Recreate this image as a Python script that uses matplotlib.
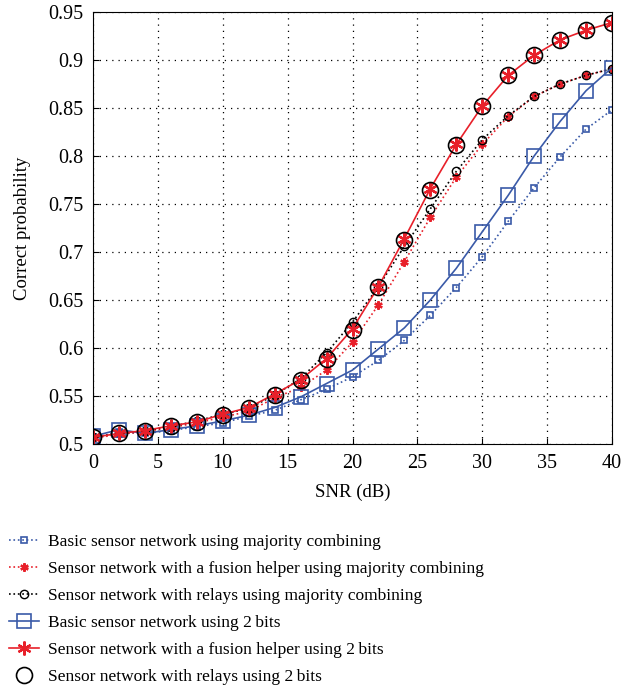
import matplotlib
matplotlib.use('Agg')
import matplotlib.pyplot as plt

plt.rcParams['font.family'] = ['Liberation Serif', 'DejaVu Serif']

snr = [0, 2, 4, 6, 8, 10, 12, 14, 16, 18, 20, 22, 24, 26, 28, 30, 32, 34, 36, 38, 40]

basic_maj = [0.507, 0.512, 0.511, 0.514, 0.518, 0.522, 0.529, 0.535, 0.546, 0.557, 0.570,
             0.587, 0.608, 0.634, 0.663, 0.695, 0.732, 0.767, 0.799, 0.828, 0.848]
fusion_maj = [0.506, 0.510, 0.513, 0.517, 0.522, 0.528, 0.534, 0.548, 0.559, 0.577, 0.606,
              0.645, 0.690, 0.736, 0.778, 0.812, 0.841, 0.862, 0.875, 0.884, 0.891]
relay_maj = [0.507, 0.511, 0.514, 0.518, 0.524, 0.531, 0.537, 0.551, 0.568, 0.595, 0.627,
             0.664, 0.706, 0.745, 0.784, 0.817, 0.842, 0.862, 0.875, 0.884, 0.891]
basic_2b = [0.508, 0.515, 0.511, 0.515, 0.519, 0.524, 0.530, 0.538, 0.549, 0.563, 0.577,
            0.599, 0.621, 0.650, 0.683, 0.721, 0.759, 0.800, 0.836, 0.868, 0.892]
fusion_2b = [0.507, 0.511, 0.514, 0.519, 0.523, 0.531, 0.538, 0.552, 0.567, 0.589, 0.620,
             0.664, 0.714, 0.766, 0.812, 0.852, 0.884, 0.905, 0.921, 0.931, 0.939]
relay_2b = [0.507, 0.511, 0.514, 0.519, 0.523, 0.530, 0.537, 0.551, 0.567, 0.589, 0.619,
            0.664, 0.713, 0.765, 0.811, 0.852, 0.884, 0.905, 0.921, 0.931, 0.939]

labels = ['Basic sensor network using majority combining',
          'Sensor network with a fusion helper using majority combining',
          'Sensor network with relays using majority combining',
          'Basic sensor network using 2\u2009bits',
          'Sensor network with a fusion helper using 2\u2009bits',
          'Sensor network with relays using 2\u2009bits']

blue = '#3a5aa8'
red = '#e8202a'
asterisk = (6, 2, 0)

fig = plt.figure(figsize=(6.33, 6.87), dpi=100)
ax = fig.add_axes([93/633, 1 - 444/687, 519/633, 432/687])

h1, = ax.plot(snr, basic_maj, ':', color=blue, marker='s', ms=5, mfc='none', mew=1.2, lw=1.2)
h2, = ax.plot(snr, fusion_maj, ':', color=red, marker=asterisk, ms=6, mew=1.6, lw=1.2)
h3, = ax.plot(snr, relay_maj, ':', color='black', marker='o', ms=6, mfc='none', mew=1.0, lw=1.2)
h4, = ax.plot(snr, basic_2b, '-', color=blue, marker='s', ms=9.5, mfc='none', mew=1.2, lw=1.2)
h5, = ax.plot(snr, fusion_2b, '-', color=red, marker=asterisk, ms=10, mew=1.6, lw=1.2)
h6, = ax.plot(snr, relay_2b, linestyle='none', color='black', marker='o', ms=11.5,
              mfc='none', mew=1.2)

ax.set_xlim(0, 40)
ax.set_ylim(0.5, 0.95)
ax.set_xticks(range(0, 41, 5))
ax.set_yticks([0.5, 0.55, 0.6, 0.65, 0.7, 0.75, 0.8, 0.85, 0.9, 0.95])
ax.set_yticklabels(['0.5', '0.55', '0.6', '0.65', '0.7', '0.75', '0.8', '0.85', '0.9', '0.95'])
ax.grid(True, linestyle=(0, (1, 4)), color='black', lw=0.9)
ax.tick_params(direction='in', labelsize=14.5, length=4, pad=7)
ax.set_xlabel('SNR (dB)', fontsize=13.5, labelpad=8)
ax.set_ylabel('Correct probability', fontsize=13.5, labelpad=12)

fig.legend([h1, h2, h3, h4, h5, h6], labels, loc='upper left',
           bbox_to_anchor=(-0.005, 1 - 522/687), frameon=False, fontsize=12.5,
           handlelength=1.7, handletextpad=0.55, labelspacing=0.62, borderaxespad=0.3)

fig.savefig('out.png', dpi=100)
